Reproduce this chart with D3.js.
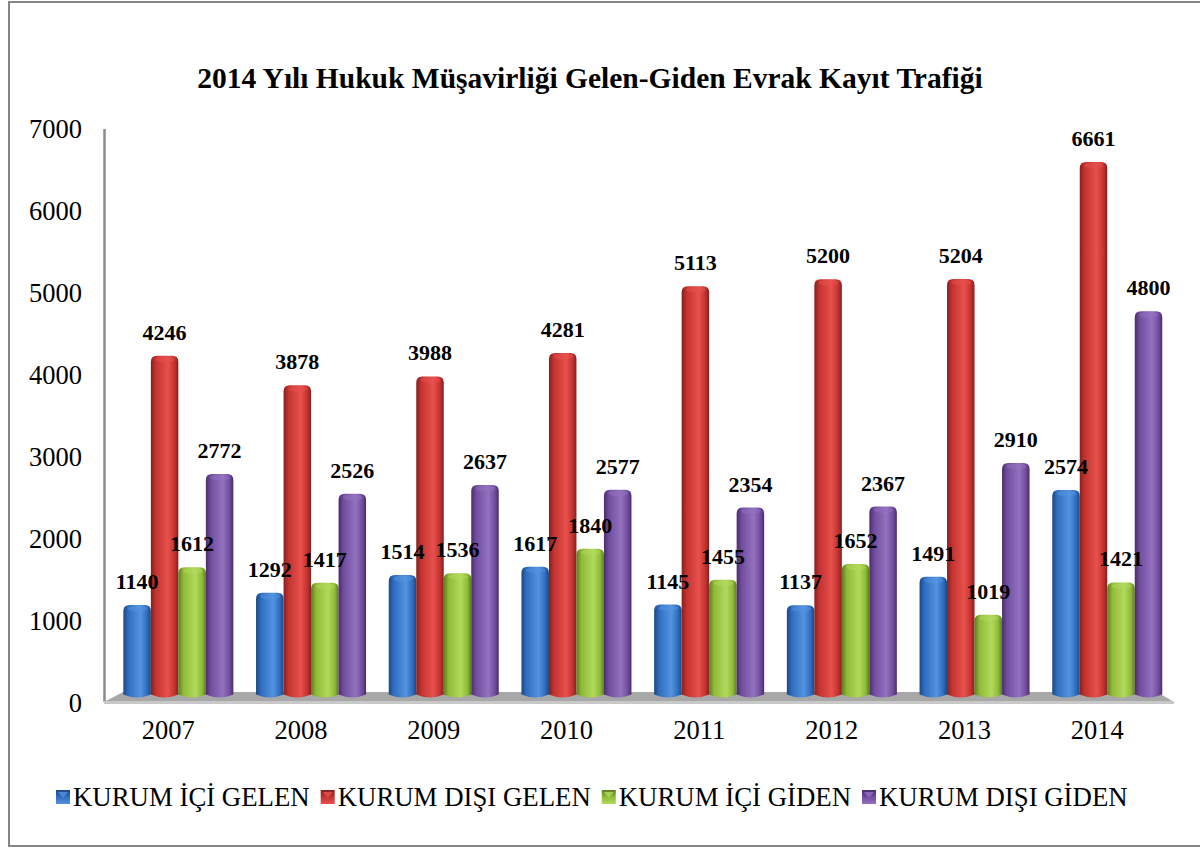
<!DOCTYPE html>
<html><head><meta charset="utf-8">
<script src="https://cdn.jsdelivr.net/npm/d3@7"></script>
<style>html,body{margin:0;padding:0;background:#fff;}svg{display:block;}</style>
</head><body>
<script>
const title = "2014 Yılı Hukuk Müşavirliği Gelen-Giden Evrak Kayıt Trafiği";
const years = ["2007","2008","2009","2010","2011","2012","2013","2014"];
const seriesNames = ["KURUM İÇİ GELEN","KURUM DIŞI GELEN","KURUM İÇİ GİDEN","KURUM DIŞI GİDEN"];
const kurumIciGelen = [1140,1292,1514,1617,1145,1137,1491,2574];
const kurumDisiGelen = [4246,3878,3988,4281,5113,5200,5204,6661];
const kurumIciGiden = [1612,1417,1536,1840,1455,1652,1019,1421];
const kurumDisiGiden = [2772,2526,2637,2577,2354,2367,2910,4800];
const yTicks = [0,1000,2000,3000,4000,5000,6000,7000];
const seriesColors = [
  {dark:"#1b4784", mid:"#2f6ebf", light:"#5393e0"},
  {dark:"#85201e", mid:"#c33330", light:"#e7504d"},
  {dark:"#5c7c1e", mid:"#8fbb38", light:"#b2d95c"},
  {dark:"#482d6b", mid:"#724d9e", light:"#9472c0"}
];
const seriesValues = [kurumIciGelen,kurumDisiGelen,kurumIciGiden,kurumDisiGiden];
const FONT="'Liberation Serif', 'Times New Roman', serif";

const W=1200,H=849;
const svg=d3.select("body").append("svg").attr("width",W).attr("height",H);
const defs=svg.append("defs");
seriesColors.forEach((c,i)=>{
  const g=defs.append("linearGradient").attr("id","g"+i).attr("x1","0").attr("x2","1").attr("y1","0").attr("y2","0");
  [[0,c.dark],[0.18,c.mid],[0.62,c.light],[0.86,c.mid],[1,c.dark]].forEach(s=>g.append("stop").attr("offset",s[0]).attr("stop-color",s[1]));
  const t=defs.append("linearGradient").attr("id","t"+i).attr("x1","0").attr("x2","0").attr("y1","0").attr("y2","1");
  t.append("stop").attr("offset",0).attr("stop-color",c.dark);
  t.append("stop").attr("offset",0.5).attr("stop-color",c.mid);
  t.append("stop").attr("offset",1).attr("stop-color",c.light);
});

// border
svg.append("rect").attr("x",9).attr("y",2).attr("width",1200).attr("height",844)
  .attr("fill","none").attr("stroke","#868686").attr("stroke-width",2);

// title
svg.append("text").attr("x",590).attr("y",88).attr("text-anchor","middle")
  .attr("font-family",FONT).attr("font-weight","bold")
  .attr("font-size",29.5).text(title);

// scales
const yAxisScale=d3.scaleLinear().domain([0,7000]).range([703,129]);
const yBar=d3.scaleLinear().domain([0,7000]).range([696.5,134.8]);
const x0=d3.scaleBand().domain(years).range([102,102+8*132.7]);
const x1=d3.scaleBand().domain(d3.range(4)).range([0,110]);
const depth=10;
const groupOffset=(x0.bandwidth()-110)/2+depth;

// left wall line
svg.append("line").attr("x1",104.5).attr("x2",104.5).attr("y1",yAxisScale(7000)).attr("y2",702)
  .attr("stroke","#8c8c8c").attr("stroke-width",2.5);

// floor
svg.append("polygon").attr("points",[[104,702],[123,692],[1157,692],[1174,702]].map(p=>p.join(",")).join(" "))
  .attr("fill","#a8a8a8");
svg.append("rect").attr("x",104).attr("y",701).attr("width",1070).attr("height",3).attr("fill","#c8c8c8");

// y labels
const yAxis=d3.axisLeft(yAxisScale).tickValues(yTicks).tickSize(0).tickPadding(0).tickFormat(d3.format("d"));
const ya=svg.append("g").attr("transform","translate(82,0)").call(yAxis);
ya.select(".domain").remove();
ya.attr("font-family",FONT);
ya.selectAll("text").attr("font-family",FONT).attr("font-size",26.5).attr("fill","#000");

// x labels
const xAxis=d3.axisBottom(x0).tickSize(0).tickPadding(0);
const xa=svg.append("g").attr("transform","translate(0,720)").call(xAxis);
xa.select(".domain").remove();
xa.attr("font-family",FONT);
xa.selectAll("text").attr("font-family",FONT).attr("font-size",26.5).attr("fill","#000").attr("dy","0.71em");

// bars
const r=6;
function barPath(x,w,top,bot){
  return `M${x},${bot-3} L${x},${top+r} Q${x},${top} ${x+r},${top} L${x+w-r},${top} Q${x+w},${top} ${x+w},${top+r} L${x+w},${bot-3} Q${x+w/2},${bot+3} ${x},${bot-3} Z`;
}
const groups=svg.append("g");
years.forEach((yr,yi)=>{
  seriesValues.forEach((vals,si)=>{
    const x=x0(yr)+groupOffset+x1(si);
    const w=x1.bandwidth();
    const top=yBar(vals[yi]);
    groups.append("path").attr("d",barPath(x,w,top,yBar(0)+1)).attr("fill","url(#g"+si+")");
    groups.append("ellipse").attr("cx",x+w*0.52).attr("cy",top+3.5).attr("rx",w*0.36).attr("ry",3)
      .attr("fill",seriesColors[si].light).attr("opacity",0.5);
  });
});
// labels
years.forEach((yr,yi)=>{
  seriesValues.forEach((vals,si)=>{
    const x=x0(yr)+groupOffset+x1(si)+x1.bandwidth()/2;
    svg.append("text").attr("x",x).attr("y",yBar(vals[yi])-16).attr("text-anchor","middle")
      .attr("font-family",FONT).attr("font-weight","bold")
      .attr("font-size",22).text(vals[yi]);
  });
});

// legend
const lg=svg.append("g").attr("transform","translate(56,797)");
let lx=0;
seriesNames.forEach((n,i)=>{
  const g=lg.append("g").attr("transform",`translate(${lx},0)`);
  g.append("rect").attr("x",0).attr("y",-7).attr("width",14).attr("height",14).attr("fill","url(#t"+i+")");
  g.append("path").attr("d","M2,-5 L12,-5 L7,1 Z").attr("fill",seriesColors[i].light).attr("opacity",0.8);
  const t=g.append("text").attr("x",17).attr("y",0).attr("dy","0.35em")
    .attr("font-family",FONT).attr("font-size",26.8).text(n);
  lx+=17+t.node().getComputedTextLength()+11;
});
</script>
</body></html>
